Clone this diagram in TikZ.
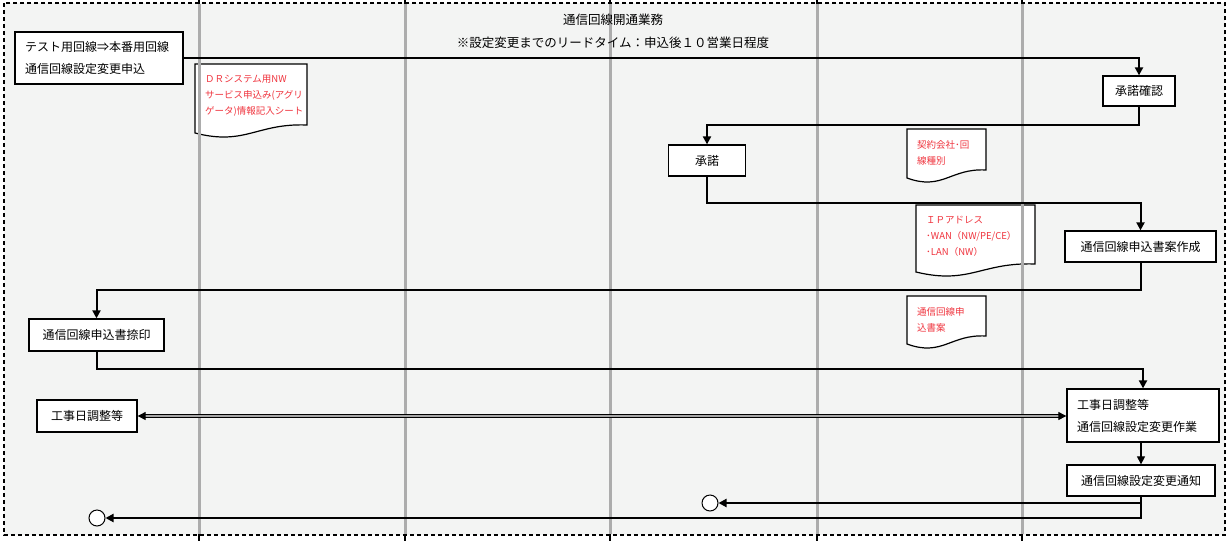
\documentclass[tikz,border=0pt]{standalone}
\usepackage{fontspec}
\newfontfamily\jp{Noto Sans CJK JP}
\usetikzlibrary{arrows.meta}
\definecolor{bgpaper}{RGB}{243,244,243}
\definecolor{lanegray}{RGB}{172,172,172}
\definecolor{notered}{RGB}{240,52,62}
\pgfdeclarelayer{background}
\pgfsetlayers{background,main}

\begin{document}
\begin{tikzpicture}[x=1pt,y=-1pt,
  font=\jp\fontsize{12}{22}\selectfont,
  box/.style={draw, line width=1.3pt, fill=white, inner sep=0pt},
  doc/.style={anchor=north west, text=notered, align=left, inner xsep=10pt, inner ysep=11pt,
    font=\jp\fontsize{9.5}{16}\selectfont},
  flow/.style={line width=2pt, -{Triangle[length=8pt,width=8pt]}},
  link/.style={double=gray!70, double distance=1.4pt, line width=0.9pt,
    {Triangle[length=8pt,width=8pt]}-{Triangle[length=8pt,width=8pt]}},
  endpt/.style={draw, circle, fill=white, line width=1pt, minimum size=16pt, inner sep=0pt}]
\useasboundingbox (0,0) rectangle (1228,541);

% title
\node[align=center, font=\jp\fontsize{12.5}{23}\selectfont] (title) at (613,31)
  {通信回線開通業務\\※設定変更までのリードタイム：申込後１０営業日程度};

% process boxes
\node[box, minimum width=168pt, minimum height=52pt, text width=148pt, align=left] (apply) at (99,58)
  {テスト用回線⇒本番用回線\\通信回線設定変更申込};
\node[box, minimum width=72pt, minimum height=30pt] (confirm) at (1139,91) {承諾確認};
\node[box, minimum width=77pt, minimum height=31pt] (accept) at (707,160.5) {承諾};
\node[box, minimum width=151pt, minimum height=31pt] (draftmake) at (1140.5,246.5) {通信回線申込書案作成};
\node[box, minimum width=135pt, minimum height=32pt] (seal) at (96.5,335) {通信回線申込書捺印};
\node[box, minimum width=100pt, minimum height=32pt] (schedule) at (87,416) {工事日調整等};
\node[box, minimum width=152pt, minimum height=53pt, text width=132pt, align=left] (work) at (1143,415.5)
  {工事日調整等\\通信回線設定変更作業};
\node[box, minimum width=148pt, minimum height=31pt] (notify) at (1141,480.5) {通信回線設定変更通知};
\node[endpt] (end1) at (710,503) {};
\node[endpt] (end2) at (97,518) {};

% documents
\node[doc] (drsheet) at (195,64) {ＤＲシステム用NW\\サービス申込み(アグリ\\ゲータ)情報記入シート};
\node[doc] (kind) at (907,129) {契約会社･回\\線種別};
\node[doc] (ipaddr) at (916,205) {ＩＰアドレス\\･WAN（NW/PE/CE）\\･LAN（NW）};
\node[doc] (draft) at (907,296) {通信回線申\\込書案};

% flow
\draw[flow] (apply.east) -| (confirm.north);
\draw[flow] (confirm.south) -- ++(0,18) -| (accept.north);
\draw[flow] (accept.south) -- ++(0,26) -| (draftmake.north);
\draw[flow] (draftmake.south) -- ++(0,27) -| (seal.north);
\draw[flow] (seal.south) -- ++(0,17) -| (work.north);
\draw[link] (schedule.east) -- (schedule.east -| work.west);
\draw[flow, line width=1.2pt] (work.south -| notify.north) -- (notify.north);
\draw[flow] (notify.south) |- (end1.east);
\draw[flow] (notify.south) |- (end2.east);

\begin{pgfonlayer}{background}
  \fill[white] (0,0) rectangle (1228,541);
  \fill[bgpaper] (4,3) rectangle (1225,535);
  \foreach \d/\w/\h in {drsheet/112/73, kind/79/53, ipaddr/119/71, draft/79/52}
    \draw[line width=1.2pt, fill=white, shift={(\d.north west)}]
      (0,0) -- (\w,0) -- (\w,\h-12) .. controls (0.55*\w,\h-14) and (0.45*\w,\h+9) .. (0,\h-4) -- cycle;
  \foreach \x in {199,405,610,817,1022} {
    \draw[line width=1.6pt] (\x,0) -- (\x,541);
    \draw[lanegray, line width=3pt] (\x,4) -- (\x,534);
  }
\end{pgfonlayer}
\draw[line width=1.2pt, dash pattern=on 4pt off 3pt] (4,3) rectangle (1225,535);
\end{tikzpicture}
\end{document}
